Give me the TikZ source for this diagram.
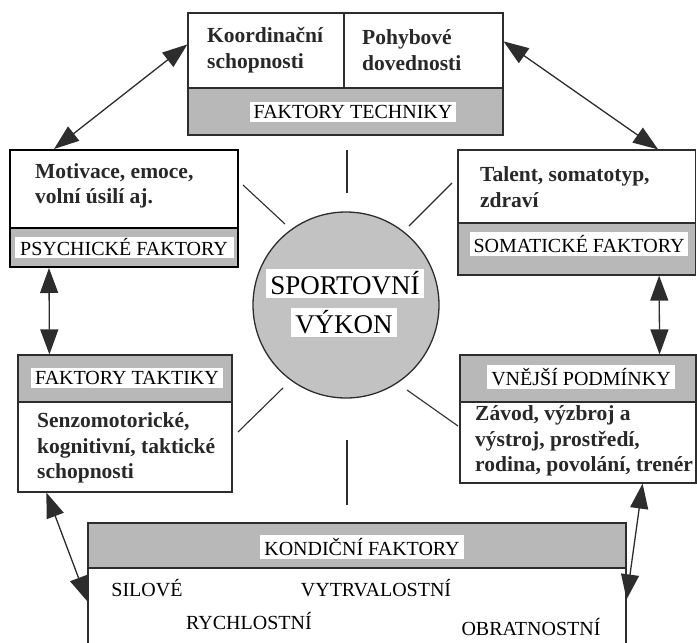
\documentclass[tikz,border=0pt]{standalone}
\usepackage{fontspec}
\setmainfont{Liberation Serif}
\usetikzlibrary{arrows.meta}
\definecolor{bandgray}{RGB}{184,184,184}
\definecolor{circgray}{RGB}{194,194,194}
\definecolor{ink}{RGB}{45,45,45}
\definecolor{desc}{RGB}{40,40,40}
\begin{document}
\begin{tikzpicture}[x=1pt,y=-1pt,
  cell/.style={draw=ink, line width=1.2pt, fill=white, inner sep=0pt, rectangle},
  band/.style={draw=ink, line width=1.2pt, fill=bandgray, inner sep=0pt, rectangle},
  lab/.style={fill=white, inner xsep=4pt, inner ysep=3pt, font=\fontsize{20}{24}\selectfont, text=black},
  desctext/.style={anchor=west, inner sep=0pt, align=left, text=desc, font=\fontsize{21.5}{25.5}\selectfont\bfseries},
  item/.style={inner sep=0pt, font=\fontsize{20}{24}\selectfont, text=black},
  big/.style={fill=white, inner xsep=4pt, inner ysep=3pt, font=\fontsize{27}{31}\selectfont, text=black},
  biarrow/.style={draw=ink, line width=1.3pt, {Triangle[length=25pt,width=18pt]}-{Triangle[length=25pt,width=18pt]}},
  ray/.style={draw=ink, line width=1.1pt}
]
\useasboundingbox (0,0) rectangle (697,643);
\fill[white] (0,0) rectangle (697,643);

% top: techniky
\node[cell, minimum width=156pt, minimum height=75pt] (tk) at (266,50.5) {};
\node[cell, minimum width=159pt, minimum height=75pt] (tp) at (423.5,50.5) {};
\node[band, minimum width=315pt, minimum height=47pt] (tg) at (345.5,111.5) {};
\node[lab] (tgl) at (353,112) {FAKTORY TECHNIKY};
\node[desctext] (tkt) at (207,50) {Koordinační\\schopnosti};
\node[desctext] (tpt) at (362,50) {Pohybové\\dovednosti};

% psychické
\node[cell, draw=black, line width=2pt, minimum width=228pt, minimum height=78pt] (pu) at (124,189) {};
\node[band, draw=black, line width=2pt, minimum width=228pt, minimum height=39pt] (pg) at (124,247.5) {};
\node[lab, minimum width=219pt, inner ysep=2pt] (pgl) at (124,247.5) {PSYCHICKÉ FAKTORY};
\node[desctext] (put) at (35,186) {Motivace, emoce,\\volní úsilí aj.};

% somatické
\node[cell, minimum width=237.5pt, minimum height=73pt] (su) at (576.75,186.5) {};
\node[band, minimum width=237.5pt, minimum height=52pt] (sg) at (576.75,249) {};
\node[lab] (sgl) at (579,244) {SOMATICKÉ FAKTORY};
\node[desctext] (sut) at (480,187) {Talent, somatotyp,\\zdraví};

% taktiky
\node[band, minimum width=214pt, minimum height=47pt] (ttg) at (125,378.5) {};
\node[cell, minimum width=214pt, minimum height=90pt] (ttu) at (125,447) {};
\node[lab] (ttgl) at (127,378) {FAKTORY TAKTIKY};
\node[desctext] (ttut) at (37,448) {Senzomotorické,\\kognitivní, taktické\\schopnosti};

% vnější podmínky
\node[band, minimum width=236pt, minimum height=47pt] (eg) at (578,378.5) {};
\node[cell, minimum width=236pt, minimum height=81pt] (eu) at (578,442.5) {};
\node[lab] (egl) at (581,377) {VNĚJŠÍ PODMÍNKY};
\node[desctext] (eut) at (475,441) {Závod, výzbroj a\\výstroj, prostředí,\\rodina, povolání, trenér};

% kondiční
\node[band, minimum width=538pt, minimum height=45pt] (kg) at (357,545.5) {};
\node[cell, minimum width=538pt, minimum height=77pt] (ku) at (357,606.5) {};
\node[lab] (kgl) at (362,547) {KONDIČNÍ FAKTORY};
\node[item] (k1) at (147,588) {SILOVÉ};
\node[item] (k2) at (376,588) {VYTRVALOSTNÍ};
\node[item] (k3) at (249,621) {RYCHLOSTNÍ};
\node[item] (k4) at (531,627) {OBRATNOSTNÍ};

% centre
\node[circle, draw=ink, line width=1.3pt, fill=circgray, minimum size=186pt, inner sep=0pt] (perf) at (346,305) {};
\node[big] (perf1) at (345,283.5) {SPORTOVNÍ};
\node[big] (perf2) at (344,322.5) {VÝKON};

% rays
\coordinate (r1a) at (347,150); \coordinate (r1b) at (347,193);
\coordinate (r2a) at (243,185); \coordinate (r2b) at (285,224);
\coordinate (r3a) at (452,183); \coordinate (r3b) at (409,226);
\coordinate (r4a) at (238,432); \coordinate (r4b) at (283,388);
\coordinate (r5a) at (458,426); \coordinate (r5b) at (407,390);
\coordinate (r6a) at (347,440); \coordinate (r6b) at (347,505);
\draw[ray] (r1a) -- (r1b);
\draw[ray] (r2a) -- (r2b);
\draw[ray] (r3a) -- (r3b);
\draw[ray] (r4a) -- (r4b);
\draw[ray] (r5a) -- (r5b);
\draw[ray] (r6a) -- (r6b);

% arrows
\draw[biarrow] ([xshift=45pt]pu.north west) -- ([yshift=-32pt]tk.north west);
\draw[biarrow] ([yshift=-29pt]tp.north east) -- ([xshift=-38pt]su.north east);
\draw[biarrow] ([xshift=40pt]pg.south west) -- ([xshift=32pt]ttg.north west);
\draw[biarrow] ([xshift=-37pt]sg.south east) -- ([xshift=-37pt]eg.north east);
\draw[biarrow] ([xshift=29pt]ttu.south west) -- ([yshift=-34pt]ku.north west);
\draw[biarrow] ([xshift=-54pt]eu.south east) -- ([yshift=-32pt]ku.north east);
\end{tikzpicture}
\end{document}
